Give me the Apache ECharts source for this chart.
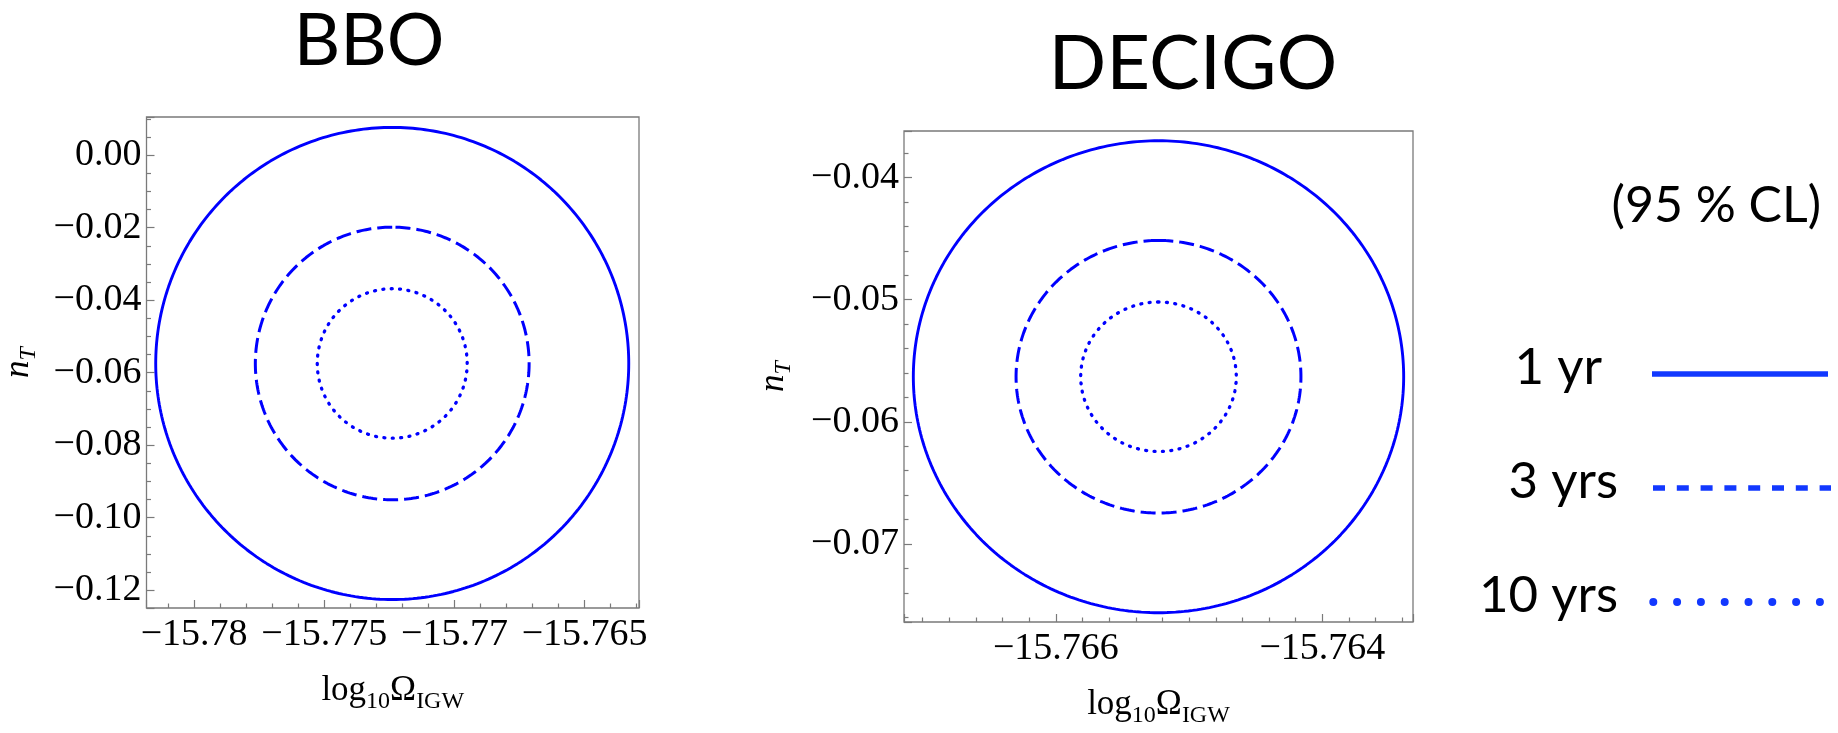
<!DOCTYPE html>
<html>
<head>
<meta charset="utf-8">
<title>BBO / DECIGO forecasts</title>
<script src="https://cdn.jsdelivr.net/npm/echarts@6/dist/echarts.min.js"></script>
<style>
  html, body { margin: 0; padding: 0; background: #ffffff; }
  #chart { width: 1838px; height: 733px; }
</style>
</head>
<body>
<div id="chart"></div>
<script>
// Detectors and observation times
const panelNames = ['BBO', 'DECIGO'];
const durations = ['1 yr', '3 yrs', '10 yrs'];

// 95% CL forecast ellipses: centre (log10 Omega_IGW, n_T) and half-widths per observation time
const bboCentre = [-15.77239, -0.05744];
const bboHalfWidthOmega = [0.009086, 0.005259, 0.00288];
const bboHalfWidthNT = [0.06512, 0.0376, 0.02062];

const decigoCentre = [-15.76523, -0.05631];
const decigoHalfWidthOmega = [0.00184, 0.001069, 0.000584];
const decigoHalfWidthNT = [0.01932, 0.01116, 0.00612];

// Plot windows
const bboOmegaRange = [-15.78183, -15.76291];
const bboNTRange = [-0.1249, 0.01055];
const decigoOmegaRange = [-15.76714, -15.76332];
const decigoNTRange = [-0.07639, -0.03619];

const curveColor = '#0000ff';
const legendColor = '#1238ff';
const frameColor = '#7a7a7a';
const serif = 'Liberation Serif';
const sans = 'Lato';

// closed ellipse outline from centre and half-widths
function ellipse(centre, a, b) {
  const pts = [];
  for (let k = 0; k <= 360; k++) {
    const t = (90 + k) * Math.PI / 180;
    pts.push([centre[0] + a * Math.cos(t), centre[1] + b * Math.sin(t)]);
  }
  return pts;
}

const minus = s => s.replace('-', '\u2212');
const fmtOmega = v => minus(String(Math.round(v * 1000) / 1000));
const fmtNT = v => minus((Math.abs(v) < 1e-9 ? 0 : v).toFixed(2));

const lineStyles = [
  { type: 'solid', width: 2.9 },
  { type: [15, 6], width: 3 },
  { type: [1, 7.4], width: 3.3, cap: 'round' }
];

const tickStyle = { color: frameColor, width: 1.2 };

function xAxisFor(grid, range, split, minorSplit, gap) {
  return {
    gridIndex: grid, type: 'value', position: 'bottom', min: range[0], max: range[1], splitNumber: split,
    axisLine: { show: false, onZero: false },
    axisTick: { show: true, inside: true, length: 8, lineStyle: tickStyle },
    minorTick: { show: true, splitNumber: minorSplit, length: 4.5, lineStyle: tickStyle },
    splitLine: { show: false }, minorSplitLine: { show: false },
    axisLabel: { showMinLabel: false, showMaxLabel: false, formatter: fmtOmega, margin: 8,
                 fontFamily: serif, fontSize: 38, color: '#000' },
    name: '{m|log}{s|10}{m|\u03a9}{s|IGW}', nameLocation: 'middle', nameGap: gap,
    nameTextStyle: {
      rich: {
        m: { fontFamily: serif, fontSize: 35, color: '#000', verticalAlign: 'middle' },
        s: { fontFamily: serif, fontSize: 24, color: '#000', verticalAlign: 'middle', padding: [22, 0, 0, 0] }
      }
    }
  };
}

function yAxisFor(grid, range, split, minorSplit, gap) {
  return {
    gridIndex: grid, type: 'value', position: 'left', min: range[0], max: range[1], splitNumber: split,
    axisLine: { show: false, onZero: false },
    axisTick: { show: true, inside: true, length: 8, lineStyle: tickStyle },
    minorTick: { show: true, splitNumber: minorSplit, length: 4.5, lineStyle: tickStyle },
    splitLine: { show: false }, minorSplitLine: { show: false },
    axisLabel: { showMinLabel: false, showMaxLabel: false, formatter: fmtNT, margin: 5,
                 fontFamily: serif, fontSize: 38, color: '#000' },
    name: '{n|n}{t|T}', nameLocation: 'middle', nameGap: gap, nameRotate: 90,
    nameTextStyle: {
      rich: {
        n: { fontFamily: serif, fontStyle: 'italic', fontSize: 35, color: '#000', verticalAlign: 'middle' },
        t: { fontFamily: serif, fontStyle: 'italic', fontSize: 24, color: '#000', verticalAlign: 'middle', padding: [20, 0, 0, 0] }
      }
    }
  };
}

const panels = [
  { centre: bboCentre, a: bboHalfWidthOmega, b: bboHalfWidthNT },
  { centre: decigoCentre, a: decigoHalfWidthOmega, b: decigoHalfWidthNT }
];

const series = [];
panels.forEach((p, gi) => {
  durations.forEach((d, i) => {
    series.push({
      name: panelNames[gi] + ' ' + d,
      type: 'line', xAxisIndex: gi, yAxisIndex: gi,
      data: ellipse(p.centre, p.a[i], p.b[i]),
      showSymbol: false, smooth: false, silent: true, animation: false,
      lineStyle: Object.assign({ color: curveColor }, lineStyles[i]),
      clip: true
    });
  });
});

// legend: labels on the left, line samples on the right
const legendRows = [374, 488, 602];
const legendTextRight = [1602, 1618, 1618];
const legendGraphics = [
  { type: 'text', x: 1821, y: 206,
    style: { text: '(95 % CL)', font: '50px ' + sans, fill: '#000', align: 'right', verticalAlign: 'middle' } }
];
durations.forEach((d, i) => {
  legendGraphics.push({ type: 'text', x: legendTextRight[i], y: legendRows[i] - 6,
    style: { text: d, font: '51px ' + sans, fill: '#000', align: 'right', verticalAlign: 'middle' } });
});
legendGraphics.push({ type: 'line', shape: { x1: 1652, y1: legendRows[0], x2: 1828, y2: legendRows[0] },
  style: { stroke: legendColor, lineWidth: 5.5 } });
legendGraphics.push({ type: 'line', shape: { x1: 1653, y1: legendRows[1], x2: 1831, y2: legendRows[1] },
  style: { stroke: legendColor, lineWidth: 5.5, lineDash: [12, 11.8] } });
legendGraphics.push({ type: 'line', shape: { x1: 1653.3, y1: legendRows[2], x2: 1825, y2: legendRows[2] },
  style: { stroke: legendColor, lineWidth: 8, lineDash: [0, 23.8], lineCap: 'round' } });

const option = {
  backgroundColor: '#ffffff',
  animation: false,
  title: [
    { text: panelNames[0], left: 364, top: 1, textAlign: 'center',
      textStyle: { fontFamily: sans, fontSize: 72, fontWeight: 'normal', color: '#000' } },
    { text: panelNames[1], left: 1188, top: 21, textAlign: 'center',
      textStyle: { fontFamily: sans, fontSize: 76, fontWeight: 'normal', color: '#000' } }
  ],
  grid: [
    { left: 146, top: 117, width: 493, height: 491, show: true, borderColor: frameColor, borderWidth: 1.3, backgroundColor: 'transparent' },
    { left: 904, top: 131, width: 509, height: 508, show: true, borderColor: frameColor, borderWidth: 1.3, backgroundColor: 'transparent' }
  ],
  xAxis: [
    xAxisFor(0, bboOmegaRange, 4, 5, 60),
    xAxisFor(1, decigoOmegaRange, 2, 10, 60)
  ],
  yAxis: [
    yAxisFor(0, bboNTRange, 7, 4, 106),
    yAxisFor(1, decigoNTRange, 4, 5, 108)
  ],
  series: series,
  graphic: legendGraphics
};

const chart = echarts.init(document.getElementById('chart'));
chart.setOption(option);
</script>
</body>
</html>
